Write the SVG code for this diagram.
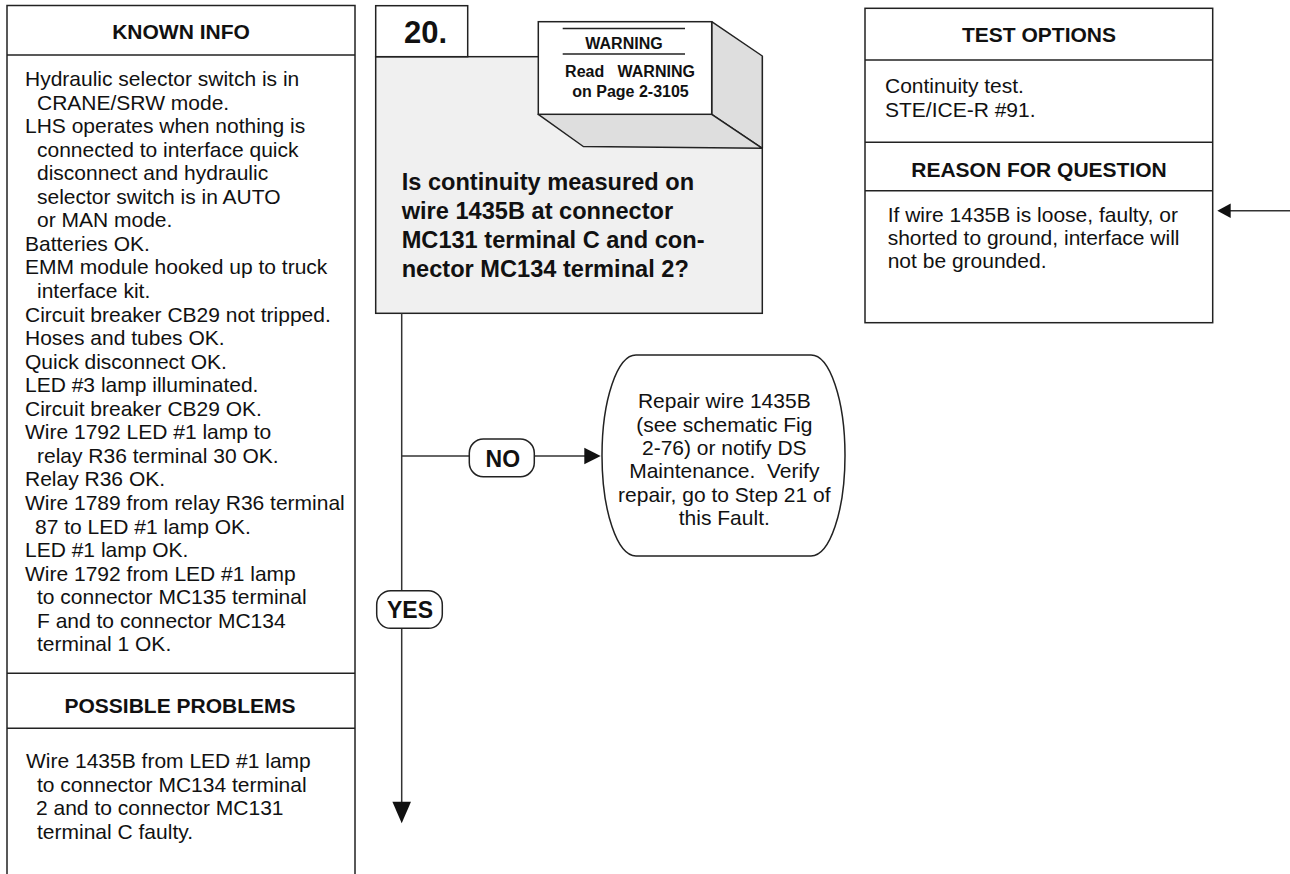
<svg xmlns="http://www.w3.org/2000/svg" width="1290" height="874" viewBox="0 0 1290 874">
  <style>
    text { font-family: "Liberation Sans", Arial, sans-serif; fill: #111; }
    .body { font-size: 21px; }
    .head { font-size: 21px; font-weight: bold; text-anchor: middle; }
    .q { font-size: 23.6px; font-weight: bold; }
    .warn { font-size: 16px; font-weight: bold; text-anchor: middle; }
    .lbl { font-size: 23px; font-weight: bold; text-anchor: middle; }
    .box { fill: #fff; stroke: #222; stroke-width: 1.5; }
    .rule { stroke: #222; stroke-width: 1.5; fill: none; }
    .line { stroke: #333; stroke-width: 1.5; fill: none; }
  </style>

  <rect width="1290" height="874" fill="#fff"/>

  <!-- Known info / possible problems column -->
  <g id="known-info">
    <rect class="box" x="7" y="5.5" width="348" height="880"/>
    <line class="rule" x1="7" y1="55" x2="355" y2="55"/>
    <text class="head" x="181" y="38.5">KNOWN INFO</text>
    <text class="body">
      <tspan x="25" y="86">Hydraulic selector switch is in</tspan>
      <tspan x="37" y="109.6">CRANE/SRW mode.</tspan>
      <tspan x="25" y="133.1">LHS operates when nothing is</tspan>
      <tspan x="37" y="156.7">connected to interface quick</tspan>
      <tspan x="37" y="180.2">disconnect and hydraulic</tspan>
      <tspan x="37" y="203.8">selector switch is in AUTO</tspan>
      <tspan x="37" y="227.3">or MAN mode.</tspan>
      <tspan x="25" y="250.9">Batteries OK.</tspan>
      <tspan x="25" y="274.4">EMM module hooked up to truck</tspan>
      <tspan x="37" y="298">interface kit.</tspan>
      <tspan x="25" y="321.5">Circuit breaker CB29 not tripped.</tspan>
      <tspan x="25" y="345.1">Hoses and tubes OK.</tspan>
      <tspan x="25" y="368.6">Quick disconnect OK.</tspan>
      <tspan x="25" y="392.2">LED #3 lamp illuminated.</tspan>
      <tspan x="25" y="415.7">Circuit breaker CB29 OK.</tspan>
      <tspan x="25" y="439.3">Wire 1792 LED #1 lamp to</tspan>
      <tspan x="37" y="462.8">relay R36 terminal 30 OK.</tspan>
      <tspan x="25" y="486.4">Relay R36 OK.</tspan>
      <tspan x="25" y="509.9">Wire 1789 from relay R36 terminal</tspan>
      <tspan x="35" y="533.5">87 to LED #1 lamp OK.</tspan>
      <tspan x="25" y="557">LED #1 lamp OK.</tspan>
      <tspan x="25" y="580.6">Wire 1792 from LED #1 lamp</tspan>
      <tspan x="37" y="604.1">to connector MC135 terminal</tspan>
      <tspan x="37" y="627.7">F and to connector MC134</tspan>
      <tspan x="37" y="651.2">terminal 1 OK.</tspan>
    </text>
  </g>

  <g id="possible-problems">
    <line class="rule" x1="7" y1="673.3" x2="355" y2="673.3"/>
    <line class="rule" x1="7" y1="728.3" x2="355" y2="728.3"/>
    <text class="head" x="180" y="713">POSSIBLE PROBLEMS</text>
    <text class="body">
      <tspan x="26" y="768">Wire 1435B from LED #1 lamp</tspan>
      <tspan x="37" y="791.5">to connector MC134 terminal</tspan>
      <tspan x="36" y="815">2 and to connector MC131</tspan>
      <tspan x="37" y="838.5">terminal C faulty.</tspan>
    </text>
  </g>

  <!-- Step 20 question box -->
  <g id="step-20">
    <rect x="375.7" y="56.7" width="386.6" height="256.6" fill="#f0f0f0" stroke="#222" stroke-width="1.5"/>
    <rect class="box" x="375.7" y="5.7" width="92" height="51"/>
    <text x="404" y="43.3" font-size="31" font-weight="bold">20.</text>
    <text class="q">
      <tspan x="401.7" y="190">Is continuity measured on</tspan>
      <tspan x="401.7" y="219.2">wire 1435B at connector</tspan>
      <tspan x="401.7" y="248.3">MC131 terminal C and con-</tspan>
      <tspan x="401.7" y="276.9">nector MC134 terminal 2?</tspan>
    </text>
  </g>

  <!-- Warning callout drawn as a raised block -->
  <g id="warning">
    <polygon points="711.7,21.7 762.3,56 762.3,148.3 711.7,114.3" fill="#dedede" stroke="#222" stroke-width="1.5" stroke-linejoin="round"/>
    <polygon points="538.3,114.3 711.7,114.3 762.3,148.3 583.3,146.5" fill="#dedede" stroke="#222" stroke-width="1.5" stroke-linejoin="round"/>
    <rect class="box" x="538.3" y="21.7" width="173.4" height="92.6"/>
    <line class="rule" x1="562.7" y1="28.5" x2="685" y2="28.5" stroke-width="2"/>
    <line class="rule" x1="562.7" y1="54" x2="685" y2="54" stroke-width="2"/>
    <text class="warn" x="624" y="48.5">WARNING</text>
    <text class="warn" x="630" y="77" xml:space="preserve">Read   WARNING</text>
    <text class="warn" x="630.5" y="97">on Page 2-3105</text>
  </g>

  <!-- Test options / reason for question -->
  <g id="test-options">
    <rect class="box" x="865" y="8.3" width="347.7" height="314.4"/>
    <line class="rule" x1="865" y1="60" x2="1212.7" y2="60"/>
    <text class="head" x="1039" y="41.7">TEST OPTIONS</text>
    <text class="body">
      <tspan x="885" y="93.3">Continuity test.</tspan>
      <tspan x="885" y="116.7">STE/ICE-R #91.</tspan>
    </text>
  </g>

  <g id="reason-for-question">
    <line class="rule" x1="865" y1="142.3" x2="1212.7" y2="142.3"/>
    <line class="rule" x1="865" y1="190.7" x2="1212.7" y2="190.7"/>
    <text class="head" x="1039" y="176.7">REASON FOR QUESTION</text>
    <text class="body">
      <tspan x="887.7" y="221.7">If wire 1435B is loose, faulty, or</tspan>
      <tspan x="887.7" y="245">shorted to ground, interface will</tspan>
      <tspan x="887.7" y="268.3">not be grounded.</tspan>
    </text>
  </g>

  <!-- Connectors -->
  <g id="connectors">
    <line class="line" x1="401.7" y1="313.3" x2="401.7" y2="803"/>
    <polygon points="392.4,801.7 411,801.7 401.7,823.3" fill="#111"/>
    <line class="line" x1="401.7" y1="456" x2="469.3" y2="456"/>
    <line class="line" x1="534.3" y1="456" x2="586" y2="456"/>
    <polygon points="584.3,447.7 600.7,456 584.3,464.3" fill="#111"/>
    <line class="line" x1="1290" y1="210.7" x2="1229" y2="210.7"/>
    <polygon points="1230.7,203.5 1217.3,210.7 1230.7,217.9" fill="#111"/>
  </g>

  <!-- Branch labels -->
  <g id="label-no">
    <rect class="box" x="469.3" y="439" width="65" height="37.7" rx="14" ry="14"/>
    <text class="lbl" x="502.8" y="466.7">NO</text>
  </g>

  <g id="label-yes">
    <rect class="box" x="376.7" y="590.7" width="65.6" height="37.6" rx="14" ry="14"/>
    <text class="lbl" x="410" y="617.5">YES</text>
  </g>

  <!-- Terminal action -->
  <g id="repair">
    <path class="box" d="M 636,355 H 811 A 34 100.5 0 0 1 811,556 H 636 A 34 100.5 0 0 1 636,355 Z"/>
    <text class="body" text-anchor="middle" xml:space="preserve"><tspan x="724.3" y="408.3">Repair wire 1435B</tspan><tspan x="724.3" y="431.7">(see schematic Fig</tspan><tspan x="724.3" y="455">2-76) or notify DS</tspan><tspan x="724.3" y="478.3">Maintenance.  Verify</tspan><tspan x="724.3" y="501.7">repair, go to Step 21 of</tspan><tspan x="724.3" y="525">this Fault.</tspan></text>
  </g>
</svg>
